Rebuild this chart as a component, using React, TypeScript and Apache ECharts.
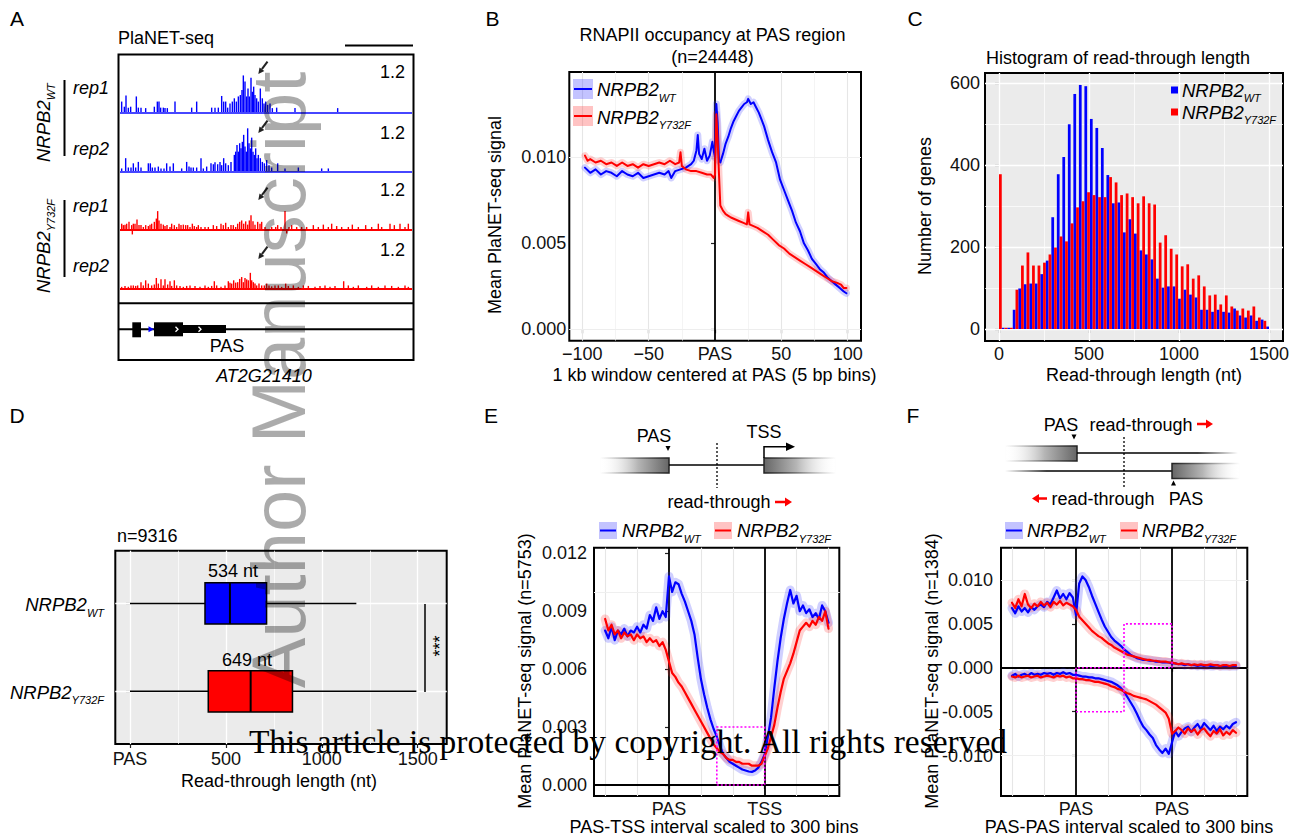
import React, { useEffect, useRef } from "react";
import * as echarts from "echarts";

const FONT = "'Liberation Sans', Arial, Helvetica, sans-serif";
const SERIF = "'Liberation Serif', 'Times New Roman', serif";
const BLUE = "#0000FF";
const RED = "#FF0000";
const BLUE_BAND = "rgba(40,40,255,0.22)";
const RED_BAND = "rgba(255,40,40,0.22)";
const GRID_MAJ = "#E6E6E6";
const GRID_MIN = "#EFEFEF";

// ---------------- Panel A: genome browser tracks [position, signal] ----------------
const trackWTrep1 = [
  [20, 0.23], [28, 0.12], [33, 0.36], [40, 0.1], [47, 0.12], [64, 0.34], [70, 0.1], [78, 0.1], [92, 0.09],
  [118, 0.12], [127, 0.23], [132, 0.23], [137, 0.1], [145, 0.1], [150, 0.09], [157, 0.09], [180, 0.23],
  [230, 0.1], [245, 0.23], [290, 0.1], [300, 0.1], [310, 0.1], [320, 0.35], [326, 0.23], [332, 0.23],
  [338, 0.1], [345, 0.19], [352, 0.23], [358, 0.3], [364, 0.23], [370, 0.34], [376, 0.37], [381, 0.48],
  [385, 0.79], [390, 0.66], [395, 0.34], [399, 0.51], [403, 0.34], [408, 0.74], [412, 0.44], [416, 0.55],
  [420, 0.37], [425, 0.3], [430, 0.23], [436, 0.51], [442, 0.3], [447, 0.19], [452, 0.23], [458, 0.16],
  [465, 0.19], [472, 0.09], [485, 0.1], [540, 0.09], [668, 0.09],
];
const trackWTrep2 = [
  [20, 0.07], [32, 0.29], [40, 0.09], [48, 0.09], [55, 0.18], [62, 0.09], [70, 0.21], [78, 0.09], [100, 0.18],
  [106, 0.18], [112, 0.09], [120, 0.09], [130, 0.11], [138, 0.07], [147, 0.07], [155, 0.18], [165, 0.11],
  [175, 0.18], [200, 0.07], [215, 0.21], [222, 0.11], [228, 0.09], [235, 0.09], [245, 0.09], [258, 0.29],
  [265, 0.07], [275, 0.11], [288, 0.18], [295, 0.16], [300, 0.2], [308, 0.16], [315, 0.21], [320, 0.14],
  [326, 0.29], [332, 0.18], [340, 0.14], [348, 0.21], [358, 0.36], [362, 0.43], [366, 0.57], [370, 0.43],
  [374, 0.61], [378, 0.5], [382, 0.64], [386, 0.79], [390, 0.54], [394, 0.43], [398, 0.93], [402, 0.61],
  [406, 0.5], [410, 0.73], [414, 0.43], [418, 0.36], [422, 0.5], [426, 0.29], [430, 0.36], [436, 0.29],
  [442, 0.21], [448, 0.18], [455, 0.25], [462, 0.14], [470, 0.09], [488, 0.18], [510, 0.07], [550, 0.09],
  [620, 0.07], [640, 0.07],
];
const trackY732Frep1 = [
  [20, 0.12], [25, 0.09], [30, 0.1], [35, 0.12], [42, 0.16], [50, 0.09], [52, -0.11], [55, 0.12], [60, 0.12],
  [66, 0.21], [72, 0.09], [78, 0.09], [85, 0.05], [92, 0.09], [100, 0.07], [105, 0.1], [110, 0.12], [118, 0.16],
  [124, 0.23], [128, 0.39], [132, 0.19], [138, 0.12], [145, 0.1], [150, 0.07], [156, 0.09], [165, 0.05],
  [170, 0.12], [178, 0.09], [185, 0.05], [192, 0.12], [198, 0.09], [205, 0.1], [212, 0.09], [218, 0.09],
  [225, 0.05], [232, 0.12], [238, 0.07], [245, 0.05], [250, 0.09], [258, 0.05], [270, 0.05], [280, 0.05],
  [295, 0.09], [305, 0.07], [318, 0.12], [325, 0.09], [332, 0.14], [340, 0.05], [348, 0.09], [355, 0.09],
  [362, 0.05], [368, 0.12], [374, 0.16], [380, 0.19], [386, 0.12], [392, 0.17], [398, 0.1], [403, 0.19],
  [408, 0.3], [414, 0.17], [420, 0.1], [428, 0.16], [435, 0.12], [440, 0.16], [450, 0.05], [470, 0.05],
  [482, 0.05], [488, 0.09], [498, 0.05], [510, 0.39], [515, -0.09], [522, 0.05], [530, 0.09], [545, 0.05],
  [560, 0.05], [575, 0.05], [595, 0.09], [610, 0.05], [625, 0.1], [640, 0.05], [650, 0.12], [665, 0.07],
  [680, 0.05], [700, 0.05], [712, 0.1], [730, 0.05], [752, 0.09], [770, 0.05], [790, 0.12], [800, 0.05],
  [825, 0.12], [838, 0.09], [855, 0.12], [870, 0.05], [880, 0.12],
];
const trackY732Frep2 = [
  [20, 0.04], [30, 0.06], [40, 0.04], [48, 0.07], [55, 0.07], [62, 0.06], [68, 0.07], [78, 0.14], [85, 0.07],
  [92, 0.18], [100, 0.11], [110, 0.07], [118, 0.09], [124, 0.23], [130, 0.11], [138, 0.2], [145, 0.07],
  [150, 0.2], [158, 0.09], [165, 0.16], [170, 0.06], [178, 0.18], [185, 0.07], [195, 0.06], [205, 0.04],
  [215, 0.06], [225, 0.07], [240, 0.06], [255, 0.04], [270, 0.07], [280, 0.04], [290, 0.06], [298, 0.16],
  [305, 0.07], [318, 0.04], [330, 0.07], [340, 0.16], [345, 0.13], [350, 0.11], [356, 0.18], [362, 0.13],
  [368, 0.14], [374, 0.21], [380, 0.25], [385, 0.14], [390, 0.23], [395, 0.2], [400, 0.18], [406, 0.34],
  [410, 0.18], [415, 0.14], [420, 0.11], [425, 0.07], [432, 0.11], [440, 0.07], [448, 0.07], [455, 0.11],
  [462, 0.07], [470, 0.05], [480, 0.07], [490, 0.07], [500, 0.04], [512, 0.11], [520, 0.06], [535, 0.07],
  [550, 0.04], [565, 0.07], [580, 0.06], [600, 0.04], [615, 0.06], [630, 0.07], [645, 0.04], [660, 0.06],
  [686, 0.16], [700, 0.07], [715, 0.04], [730, 0.07], [755, 0.04], [770, 0.07], [790, 0.04], [810, 0.07],
  [830, 0.06], [850, 0.04], [870, 0.07], [880, 0.04],
];

// ---------------- Panel B: metagene around PAS [bin, signal] ----------------
const profileB_WT = [
  [-98, 0.0094], [-94, 0.0091], [-90, 0.0093], [-86, 0.009], [-82, 0.0092], [-78, 0.0091], [-74, 0.0089],
  [-70, 0.0092], [-66, 0.009], [-62, 0.0089], [-58, 0.0091], [-54, 0.0088], [-50, 0.0089], [-46, 0.009],
  [-42, 0.0091], [-38, 0.009], [-35, 0.0092], [-33, 0.0088], [-30, 0.0092], [-26, 0.0093], [-22, 0.0094],
  [-18, 0.0096], [-16, 0.0098], [-14, 0.0104], [-13, 0.0113], [-12, 0.0102], [-10, 0.0099], [-8, 0.0105],
  [-6, 0.0098], [-4, 0.0101], [-2, 0.0109], [-1, 0.0104], [0, 0.01], [1, 0.0131], [2, 0.012], [3, 0.0098],
  [4, 0.0097], [6, 0.0102], [8, 0.0108], [10, 0.0112], [12, 0.0117], [14, 0.0121], [16, 0.0124], [18, 0.0127],
  [20, 0.0129], [22, 0.0131], [24, 0.0132], [25, 0.0134], [27, 0.0131], [29, 0.0132], [31, 0.0129],
  [33, 0.0126], [35, 0.0122], [37, 0.0118], [40, 0.011], [43, 0.0103], [46, 0.0097], [49, 0.0087],
  [52, 0.0081], [55, 0.0075], [58, 0.0069], [61, 0.0062], [64, 0.0057], [67, 0.005], [70, 0.0046],
  [73, 0.0041], [76, 0.0038], [79, 0.0035], [82, 0.0033], [85, 0.003], [88, 0.0028], [91, 0.0026],
  [94, 0.0024], [97, 0.0022], [99, 0.0021],
];
const profileB_Y732F = [
  [-98, 0.0101], [-96, 0.0098], [-94, 0.0099], [-90, 0.0097], [-86, 0.0098], [-82, 0.0096], [-78, 0.0097],
  [-74, 0.0095], [-70, 0.0097], [-66, 0.0095], [-62, 0.0096], [-58, 0.0094], [-54, 0.0096], [-50, 0.0095],
  [-46, 0.0096], [-42, 0.0097], [-38, 0.0096], [-34, 0.0098], [-30, 0.0096], [-27, 0.0097], [-26, 0.0103],
  [-25, 0.0095], [-22, 0.0093], [-18, 0.0092], [-14, 0.0092], [-10, 0.0091], [-6, 0.009], [-3, 0.009],
  [-1, 0.0088], [0, 0.009], [1, 0.0125], [2, 0.011], [3, 0.009], [4, 0.0072], [6, 0.0069], [8, 0.0067],
  [10, 0.0066], [12, 0.0065], [15, 0.0064], [18, 0.0063], [21, 0.0062], [24, 0.0061], [25, 0.0068],
  [26, 0.0061], [29, 0.006], [32, 0.0059], [36, 0.0057], [40, 0.0055], [44, 0.0052], [48, 0.0049],
  [52, 0.0047], [56, 0.0044], [60, 0.0042], [64, 0.004], [68, 0.0038], [72, 0.0036], [76, 0.0034],
  [80, 0.0032], [84, 0.003], [88, 0.0028], [92, 0.0027], [95, 0.0026], [97, 0.0024], [99, 0.0024],
];

// ---------------- Panel C: histogram (50 bins, centres in nt) ----------------
const histBins = [
  "0", "31", "61", "92", "122", "153", "184", "214", "245", "276", "306", "337", "367", "398", "429", "459",
  "490", "520", "551", "582", "612", "643", "673", "704", "735", "765", "796", "827", "857", "888", "918",
  "949", "980", "1010", "1041", "1071", "1102", "1133", "1163", "1194", "1224", "1255", "1286", "1316",
  "1347", "1378", "1408", "1439", "1469", "1500",
];
const histWT = [
  0, 3, 3, 47, 99, 109, 111, 111, 134, 167, 273, 378, 420, 500, 574, 596, 593, 513, 491, 442, 376, 307, 309,
  236, 268, 233, 192, 182, 170, 123, 101, 104, 104, 74, 96, 84, 77, 47, 47, 42, 47, 42, 40, 50, 33, 28, 33,
  20, 23, 6,
];
const histY732F = [
  378, 3, 3, 96, 155, 187, 155, 155, 162, 182, 199, 226, 214, 258, 297, 312, 334, 327, 322, 322, 371, 358,
  327, 331, 322, 307, 324, 307, 304, 211, 229, 196, 182, 153, 158, 123, 131, 104, 82, 84, 60, 82, 55, 45, 50,
  45, 55, 28, 20, 0,
];

// ---------------- Panel D: boxplot [row, min, q1, median, q3, max] ----------------
const boxStats = [
  [1, 0, 391, 521, 712, 1180],
  [2, 0, 408, 629, 847, 1493],
];
const boxColors = [BLUE, RED];
const boxMedianLabels = ["534 nt", "649 nt"];

// ---------------- Panels E / F: scaled bins ----------------
const scaledBins = Array.from({ length: 71 }, (_, i) => -200 + 10 * i);
const E_WT = [
  0.008, 0.0076, 0.0082, 0.0075, 0.008, 0.0078, 0.0081, 0.0077, 0.008, 0.0079,
  0.0082, 0.0079, 0.0083, 0.0081, 0.0088, 0.0085, 0.0092, 0.0086, 0.009, 0.0087,
  0.0108, 0.01, 0.0105, 0.0104, 0.0099, 0.0095, 0.009, 0.0085, 0.0078, 0.0066,
  0.0055, 0.0047, 0.004, 0.0034, 0.0029, 0.0025, 0.002, 0.0016, 0.0014, 0.0012,
  0.0011, 0.001, 0.0009, 0.0008, 0.00075, 0.0007, 0.00068, 0.00075, 0.0009, 0.0012,
  0.0016, 0.0025, 0.0035, 0.005, 0.0064, 0.0076, 0.0086, 0.0094, 0.0101, 0.0094,
  0.0098, 0.009, 0.0093, 0.0089, 0.0091, 0.0087, 0.0089, 0.0086, 0.0093, 0.009,
  0.0084,
];
const E_Y732F = [
  0.0086, 0.008, 0.0083, 0.0078, 0.008, 0.0076, 0.0079, 0.0077, 0.0078, 0.0075,
  0.0078, 0.0076, 0.0077, 0.0074, 0.0076, 0.0074, 0.0075, 0.0072, 0.0074, 0.007,
  0.0064, 0.0058, 0.0056, 0.0053, 0.0051, 0.0048, 0.0045, 0.0042, 0.0039, 0.0036,
  0.0033, 0.003, 0.0027, 0.0024, 0.0021, 0.0019, 0.0017, 0.0016, 0.0014, 0.0013,
  0.0013, 0.0012, 0.0012, 0.0011, 0.0011, 0.0011, 0.001, 0.001, 0.001, 0.0011,
  0.0015, 0.0019, 0.0025, 0.0031, 0.004, 0.0048, 0.0055, 0.0059, 0.0063, 0.0068,
  0.0074, 0.008, 0.0082, 0.0084, 0.0082, 0.0085, 0.0083, 0.0087, 0.0085, 0.009,
  0.0081,
];
const F_WT_sense = [
  0.0068, 0.0062, 0.007, 0.0064, 0.0068, 0.0063, 0.0069, 0.0066, 0.007, 0.0072,
  0.0069, 0.0075, 0.0072, 0.008, 0.0088, 0.0079, 0.0084, 0.0078, 0.0085, 0.008,
  0.006, 0.0096, 0.0104, 0.01, 0.0092, 0.0082, 0.0073, 0.0064, 0.0055, 0.0047,
  0.0041, 0.0035, 0.0031, 0.0028, 0.0025, 0.0021, 0.0018, 0.0015, 0.0013, 0.0011,
  0.001, 0.0009, 0.0009, 0.0008, 0.0008, 0.0007, 0.0007, 0.0006, 0.0006, 0.0006,
  0.0005, 0.0005, 0.0004, 0.0004, 0.0003, 0.0004, 0.0003, 0.0003, 0.0002, 0.0003,
  0.0002, 0.0003, 0.0002, 0.0002, 0.0003, 0.0002, 0.0002, 0.0002, 0.0002, 0.0002,
  0.0002,
];
const F_Y732F_sense = [
  0.0074, 0.0068, 0.0078, 0.007, 0.0084, 0.0072, 0.0068, 0.0073, 0.007, 0.0075,
  0.0071, 0.0074, 0.0069, 0.0075, 0.0072, 0.0076, 0.0071, 0.0074, 0.0072, 0.007,
  0.0066, 0.0058, 0.0054, 0.005, 0.0046, 0.0042, 0.0039, 0.0036, 0.0034, 0.0031,
  0.0028, 0.0026, 0.0023, 0.0021, 0.0019, 0.0017, 0.0015, 0.0014, 0.0013, 0.0012,
  0.0011, 0.001, 0.0009, 0.0009, 0.0008, 0.0008, 0.0007, 0.0007, 0.0007, 0.0006,
  0.0006, 0.0005, 0.0004, 0.0005, 0.0004, 0.0004, 0.0003, 0.0004, 0.0003, 0.0004,
  0.0003, 0.0003, 0.0004, 0.0003, 0.0003, 0.0002, 0.0003, 0.0003, 0.0002, 0.0003,
  0.0003,
];
const F_WT_anti = [
  -0.0009, -0.0007, -0.001, -0.0008, -0.0007, -0.0009, -0.0006, -0.0008, -0.0007, -0.0008,
  -0.0006, -0.0007, -0.0006, -0.0008, -0.0006, -0.0007, -0.0005, -0.0007, -0.0006, -0.0008,
  -0.0008, -0.0009, -0.001, -0.001, -0.0011, -0.0011, -0.0012, -0.0012, -0.0013, -0.0014,
  -0.0015, -0.0016, -0.0018, -0.002, -0.0023, -0.0027, -0.0033, -0.0039, -0.0045, -0.0052,
  -0.006, -0.0067, -0.0071, -0.0076, -0.008, -0.0088, -0.0093, -0.0097, -0.0092, -0.0098,
  -0.0085, -0.0072, -0.0078, -0.0073, -0.0069, -0.0067, -0.0073, -0.0068, -0.0064, -0.007,
  -0.0063, -0.0067, -0.0071, -0.0066, -0.0072, -0.0067, -0.007, -0.0066, -0.0069, -0.0064,
  -0.0062,
];
const F_Y732F_anti = [
  -0.001, -0.0011, -0.0009, -0.0011, -0.001, -0.0009, -0.0011, -0.001, -0.0009, -0.0011,
  -0.001, -0.0009, -0.001, -0.0011, -0.0009, -0.001, -0.0009, -0.0011, -0.001, -0.0012,
  -0.0012, -0.0013, -0.0013, -0.0014, -0.0014, -0.0015, -0.0016, -0.0016, -0.0017, -0.0018,
  -0.0019, -0.0021, -0.0022, -0.0024, -0.0025, -0.0027, -0.0029, -0.003, -0.0032, -0.0033,
  -0.0034, -0.0035, -0.0036, -0.0038, -0.004, -0.0042, -0.0045, -0.0048, -0.0051, -0.0058,
  -0.0075, -0.0072, -0.0068, -0.0071, -0.0075, -0.0069, -0.0073, -0.007, -0.0076, -0.0071,
  -0.0069, -0.0074, -0.0078, -0.0072, -0.0075, -0.007, -0.0077, -0.0073, -0.0076, -0.0071,
  -0.0074,
];

// ---------------- helpers ----------------
const pairs = (ys: number[]) => ys.map((v, i) => [scaledBins[i], v]);

function T(text: string, x: number, y: number, o: any = {}) {
  return {
    type: "text", x, y, rotation: o.rot || 0, z: o.z || 100, silent: true,
    style: {
      text, fontSize: o.size || 18, fontFamily: o.family || FONT,
      fontStyle: o.italic ? "italic" : "normal", fill: o.color || "#000",
      align: o.align || "center", verticalAlign: o.va || "middle",
    },
  };
}
function NR(x: number, y: number, sub: string, o: any = {}) {
  const size = o.size || 18.5;
  const subSize = 11;
  const mainW = 3.334 * size;
  const subW = (sub === "WT" ? 1.555 : 2.946) * subSize;
  const sx = o.right ? -(mainW + subW) : 0;
  return {
    type: "group", x, y, rotation: o.rot || 0, z: 100, silent: true,
    children: [
      { type: "text", x: sx, y: 0, z: 100, style: { text: "NRPB2", fontSize: size, fontStyle: "italic", fontFamily: FONT, fill: "#000", align: "left", verticalAlign: "middle" } },
      { type: "text", x: sx + mainW, y: o.dy || 8, z: 100, style: { text: sub, fontSize: subSize, fontStyle: "italic", fontFamily: FONT, fill: "#000", align: "left", verticalAlign: "middle" } },
    ],
  };
}
const L = (x1: number, y1: number, x2: number, y2: number, stroke: any = "#000", w = 1.5, extra: any = {}) =>
  ({ type: "line", z: 100, silent: true, shape: { x1, y1, x2, y2 }, style: { stroke, lineWidth: w, ...extra } });
const R = (x: number, y: number, w: number, h: number, style: any) =>
  ({ type: "rect", z: 100, silent: true, shape: { x, y, width: w, height: h }, style });
const P = (points: number[][], fill: string) =>
  ({ type: "polygon", z: 100, silent: true, shape: { points }, style: { fill } });
const PL = (points: number[][], stroke: string, w: number) =>
  ({ type: "polyline", z: 100, silent: true, shape: { points }, style: { stroke, lineWidth: w, fill: "none" } });
const grad = (stops: any[]) => ({ type: "linear", x: 0, y: 0, x2: 1, y2: 0, colorStops: stops.map(([offset, color]) => ({ offset, color })) });
const gradGlobal = (x1: number, x2: number, stops: any[]) =>
  ({ type: "linear", global: true, x: x1, y: 0, x2, y2: 0, colorStops: stops.map(([offset, color]) => ({ offset, color })) });

function gl(kind: string, values: number[], color: string, width: number) {
  return values.map((v) => ({ [kind === "x" ? "xAxis" : "yAxis"]: v, lineStyle: { color, width, type: "solid" } }));
}
function gridS(axis: number, anchor: number[], items: any[]) {
  return {
    type: "line", xAxisIndex: axis, yAxisIndex: axis, data: [anchor], symbol: "none", showSymbol: false,
    lineStyle: { width: 0, opacity: 0 }, z: 1, silent: true,
    markLine: { z: 1, silent: true, symbol: ["none", "none"], animation: false, label: { show: false }, data: items },
  };
}
function lineS(axis: number, data: any[], color: string, width: number, z: number) {
  return {
    type: "line", xAxisIndex: axis, yAxisIndex: axis, data, showSymbol: false, symbol: "none", silent: true, z,
    lineStyle: { color, width, cap: "round", join: "round" },
  };
}
function vAxis(gridIndex: number, min: number, max: number, ticks: number[], fmt: any, margin: number) {
  return {
    gridIndex, type: "value", min, max,
    axisLine: { show: false }, splitLine: { show: false },
    axisTick: { show: true, customValues: ticks, length: 4, lineStyle: { color: "#222", width: 1.2 } },
    axisLabel: { show: true, customValues: ticks, formatter: fmt, margin, fontSize: 18, fontFamily: FONT, color: "#111", hideOverlap: false },
  };
}
const fix3 = (v: number) => v.toFixed(3);

function arrowA(tx: number, ty: number) {
  return [
    L(tx + 9.2, ty - 12.3, tx + 3.6, ty - 4.8, "#222", 2),
    P([[tx, ty], [tx + 6, ty - 3], [tx + 1.2, ty - 6.6]], "#222"),
  ];
}

function buildOption() {
  const grids: any[] = [
    { left: 120, top: 56.3, width: 292, height: 61.6 },
    { left: 120, top: 115.7, width: 292, height: 61.6 },
    { left: 120, top: 173.3, width: 292, height: 61.6 },
    { left: 120, top: 232.7, width: 292, height: 61.6 },
    { left: 569.3, top: 72, width: 291.7, height: 268.7, show: true, backgroundColor: "#fff", borderColor: "#000", borderWidth: 2 },
    { left: 985, top: 73, width: 298, height: 268, show: true, backgroundColor: "#EBEBEB", borderColor: "#000", borderWidth: 2 },
    { left: 996.24, top: 73, width: 275.5, height: 268 },
    { left: 115.3, top: 550.7, width: 331.4, height: 193.3, show: true, backgroundColor: "#EBEBEB", borderColor: "#000", borderWidth: 2 },
    { left: 594, top: 547.7, width: 245.3, height: 248.3, show: true, backgroundColor: "#fff", borderColor: "#000", borderWidth: 2 },
    { left: 1001, top: 547.7, width: 246.3, height: 248.3, show: true, backgroundColor: "#fff", borderColor: "#000", borderWidth: 2 },
  ].map((g) => ({ containLabel: false, outerBoundsMode: "none", ...g }));

  const xAxis: any[] = [];
  const yAxis: any[] = [];
  for (let i = 0; i < 4; i++) {
    xAxis.push({ gridIndex: i, type: "value", min: 15, max: 891, show: false });
    yAxis.push({ gridIndex: i, type: "value", min: -0.12, max: 1.2, show: false });
  }
  xAxis.push(vAxis(4, -109.8, 110, [-100, -50, 0, 50, 100], (v: number) => (v === 0 ? "PAS" : v < 0 ? "\u2212" + Math.abs(v) : String(v)), 4));
  yAxis.push(vAxis(4, -0.00066, 0.01496, [0, 0.005, 0.01], fix3, 3));
  xAxis.push(vAxis(5, -77.8, 1577.8, [0, 500, 1000, 1500], (v: number) => String(v), 4));
  yAxis.push(vAxis(5, -29.3, 625.2, [0, 200, 400, 600], (v: number) => String(v), 5));
  xAxis.push({ gridIndex: 6, type: "category", data: histBins, show: false });
  yAxis.push({ gridIndex: 6, type: "value", min: -29.3, max: 625.2, show: false });
  xAxis.push(vAxis(7, -76.6, 1651, [0, 500, 1000, 1500], (v: number) => (v === 0 ? "PAS" : String(v)), 6));
  yAxis.push({
    gridIndex: 7, type: "value", min: 0.4, max: 2.6, inverse: true, axisLine: { show: false }, splitLine: { show: false },
    axisLabel: { show: false }, axisTick: { show: true, customValues: [1, 2], length: 4, lineStyle: { color: "#222", width: 1.2 } },
  });
  xAxis.push(vAxis(8, -235, 533.9, [0, 300], (v: number) => (v === 0 ? "PAS" : "TSS"), 4));
  yAxis.push(vAxis(8, -0.00057, 0.01229, [0, 0.003, 0.006, 0.009, 0.012], fix3, 7));
  xAxis.push(vAxis(9, -234.4, 535.3, [0, 300], () => "PAS", 4));
  yAxis.push(vAxis(9, -0.0146, 0.01367, [-0.01, -0.005, 0, 0.005, 0.01], fix3, 8));

  const series: any[] = [];
  // A
  const trackData = [trackWTrep1, trackWTrep2, trackY732Frep1, trackY732Frep2];
  trackData.forEach((d, i) => {
    const c = i < 2 ? BLUE : RED;
    series.push({
      type: "bar", xAxisIndex: i, yAxisIndex: i, data: d, barWidth: 1.4, itemStyle: { color: c }, silent: true, z: 2,
      markLine: { z: 3, silent: true, symbol: ["none", "none"], label: { show: false }, lineStyle: { color: i < 2 ? "#4646FF" : RED, width: 2.2, type: "solid" }, data: [{ yAxis: 0 }] },
    });
  });
  // B
  series.push(gridS(4, [-100, 0], [
    ...gl("x", [-100, -50, 50, 100], GRID_MAJ, 1.1), ...gl("x", [-75, -25, 25, 75], GRID_MIN, 0.7),
    ...gl("y", [0, 0.005, 0.01], GRID_MAJ, 1.1), ...gl("y", [0.0025, 0.0075, 0.0125], GRID_MIN, 0.7),
    ...gl("x", [0], "#000", 1.8),
  ]));
  series.push(lineS(4, profileB_WT, BLUE_BAND, 7, 2), lineS(4, profileB_Y732F, RED_BAND, 7, 2));
  series.push(lineS(4, profileB_WT, BLUE, 2, 3), lineS(4, profileB_Y732F, RED, 2, 3));
  // C
  series.push(gridS(5, [0, 0], [
    ...gl("x", [0, 500, 1000, 1500], "#fff", 1.3), ...gl("x", [250, 750, 1250], "#fff", 0.7),
    ...gl("y", [0, 200, 400, 600], "#fff", 1.3), ...gl("y", [100, 300, 500], "#fff", 0.7),
  ]));
  series.push({ type: "bar", xAxisIndex: 6, yAxisIndex: 6, data: histWT, itemStyle: { color: BLUE }, barGap: "0%", barCategoryGap: "0%", silent: true, z: 2 });
  series.push({ type: "bar", xAxisIndex: 6, yAxisIndex: 6, data: histY732F, itemStyle: { color: RED }, barGap: "0%", barCategoryGap: "0%", silent: true, z: 2 });
  // D
  series.push(gridS(7, [0, 1], [
    ...gl("x", [0, 500, 1000, 1500], "#fff", 1.3), ...gl("x", [250, 750, 1250], "#fff", 0.7),
    ...gl("y", [1, 2], "#fff", 1.3),
  ]));
  series.push({
    type: "custom", xAxisIndex: 7, yAxisIndex: 7, data: boxStats, encode: { x: [1, 2, 3, 4, 5], y: 0 }, silent: true, z: 3,
    renderItem: (params: any, api: any) => {
      const row = api.value(0);
      const pMin = api.coord([api.value(1), row]);
      const pQ1 = api.coord([api.value(2), row]);
      const pMed = api.coord([api.value(3), row]);
      const pQ3 = api.coord([api.value(4), row]);
      const pMax = api.coord([api.value(5), row]);
      const yA = api.coord([api.value(2), row - 0.235])[1];
      const yB = api.coord([api.value(2), row + 0.235])[1];
      const top = Math.min(yA, yB);
      const h = Math.abs(yB - yA);
      return {
        type: "group",
        children: [
          { type: "line", shape: { x1: pMin[0], y1: pMin[1], x2: pQ1[0], y2: pQ1[1] }, style: { stroke: "#000", lineWidth: 1.5 } },
          { type: "line", shape: { x1: pQ3[0], y1: pQ3[1], x2: pMax[0], y2: pMax[1] }, style: { stroke: "#000", lineWidth: 1.5 } },
          { type: "rect", shape: { x: pQ1[0], y: top, width: pQ3[0] - pQ1[0], height: h }, style: { fill: boxColors[params.dataIndex], stroke: "#000", lineWidth: 1.5 } },
          { type: "line", shape: { x1: pMed[0], y1: top, x2: pMed[0], y2: top + h }, style: { stroke: "#000", lineWidth: 2 } },
        ],
      };
    },
  });
  // E
  const scaledGridV = [-200, -100, 100, 200, 400, 500];
  series.push(gridS(8, [-200, 0], [
    ...gl("x", scaledGridV, GRID_MAJ, 1.1),
    ...gl("y", [0.003, 0.006, 0.009, 0.012], GRID_MAJ, 1.1), ...gl("y", [0.0015, 0.0045, 0.0075, 0.0105], GRID_MIN, 0.7),
    ...gl("x", [0, 300], "#000", 1.8), ...gl("y", [0], "#000", 1.8),
  ]));
  series.push(lineS(8, pairs(E_WT), BLUE_BAND, 9, 2), lineS(8, pairs(E_Y732F), RED_BAND, 9, 2));
  series.push(lineS(8, pairs(E_WT), BLUE, 2.2, 3), lineS(8, pairs(E_Y732F), RED, 2.2, 3));
  series.push({
    type: "line", xAxisIndex: 8, yAxisIndex: 8, data: [[-200, 0]], symbol: "none", lineStyle: { opacity: 0 }, z: 4, silent: true,
    markArea: { z: 4, silent: true, itemStyle: { color: "rgba(0,0,0,0)", borderColor: "#FF00FF", borderWidth: 1.6, borderType: [2, 2] }, data: [[{ coord: [150, 0] }, { coord: [300, 0.003] }]] },
  });
  // F
  series.push(gridS(9, [-200, 0], [
    ...gl("x", scaledGridV, GRID_MAJ, 1.1),
    ...gl("y", [-0.01, -0.005, 0.005, 0.01], GRID_MAJ, 1.1), ...gl("y", [-0.0125, -0.0075, -0.0025, 0.0025, 0.0075, 0.0125], GRID_MIN, 0.7),
    ...gl("x", [0, 300], "#000", 1.8), ...gl("y", [0], "#000", 1.8),
  ]));
  series.push(
    lineS(9, pairs(F_WT_sense), BLUE_BAND, 9, 2), lineS(9, pairs(F_WT_anti), BLUE_BAND, 9, 2),
    lineS(9, pairs(F_Y732F_sense), RED_BAND, 9, 2), lineS(9, pairs(F_Y732F_anti), RED_BAND, 9, 2),
    lineS(9, pairs(F_WT_sense), BLUE, 2.2, 3), lineS(9, pairs(F_WT_anti), BLUE, 2.2, 3),
    lineS(9, pairs(F_Y732F_sense), RED, 2.2, 3), lineS(9, pairs(F_Y732F_anti), RED, 2.2, 3),
  );
  series.push({
    type: "line", xAxisIndex: 9, yAxisIndex: 9, data: [[-200, 0]], symbol: "none", lineStyle: { opacity: 0 }, z: 4, silent: true,
    markArea: {
      z: 4, silent: true, itemStyle: { color: "rgba(0,0,0,0)", borderColor: "#FF00FF", borderWidth: 1.6, borderType: [2, 2] },
      data: [[{ coord: [150, 0] }, { coord: [300, 0.005] }], [{ coord: [0, -0.005] }, { coord: [150, 0] }]],
    },
  });

  // ---------------- graphic ----------------
  const G: any[] = [];
  [["A", 17, 18], ["B", 492.5, 18], ["C", 915, 18], ["D", 17, 415], ["E", 491, 415], ["F", 913, 415]].forEach(
    ([t, x, y]: any) => G.push(T(t, x, y, { size: 21 })));

  // A
  G.push(T("PlaNET-seq", 118, 38, { align: "left" }));
  G.push(L(345, 45.5, 413, 45.5, "#000", 2));
  G.push(R(118.5, 54.5, 295, 305.5, { fill: "none", stroke: "#000", lineWidth: 2 }));
  G.push(L(118, 303.3, 414, 303.3, "#000", 2));
  [72, 133, 190, 250].forEach((y) => G.push(T("1.2", 405, y, { align: "right" })));
  [["rep1", 88], ["rep2", 149], ["rep1", 206], ["rep2", 266]].forEach(([t, y]: any) => G.push(T(t, 73, y, { align: "left", italic: true })));
  G.push(L(64.5, 80, 64.5, 156, "#000", 2), L(64.5, 200, 64.5, 277, "#000", 2));
  G.push(NR(43, 162, "WT", { rot: Math.PI / 2 }), NR(43, 293, "Y732F", { rot: Math.PI / 2 }));
  [74, 133, 200, 259].forEach((ty) => G.push(...arrowA(258.3, ty)));
  G.push(L(119, 329.3, 413, 329.3, "#000", 2));
  G.push(R(132.3, 322.3, 8.7, 15, { fill: "#000" }));
  G.push(P([[148.5, 326.3], [154, 329.3], [148.5, 332.3]], BLUE));
  G.push(R(154, 322.3, 29, 14, { fill: "#000" }));
  G.push(R(182.7, 325, 43.3, 8, { fill: "#000" }));
  G.push(PL([[175.5, 326.8], [178, 329.3], [175.5, 331.8]], "#fff", 1.3));
  G.push(PL([[198.5, 326.8], [201, 329.3], [198.5, 331.8]], "#fff", 1.3));
  G.push(T("PAS", 227, 346));
  G.push(T("AT2G21410", 264, 375.5, { italic: true }));

  // B
  G.push(T("RNAPII occupancy at PAS region", 712.5, 35));
  G.push(T("(n=24448)", 712.5, 57));
  G.push(T("Mean PlaNET-seq signal", 495, 215, { rot: Math.PI / 2 }));
  G.push(T("1 kb window centered at PAS (5 bp bins)", 714.5, 375));
  G.push(R(573, 79, 20, 20, { fill: "rgba(40,40,255,0.28)" }), L(574, 89, 592, 89, BLUE, 2));
  G.push(R(573, 106, 20, 20, { fill: "rgba(255,40,40,0.28)" }), L(574, 116, 592, 116, RED, 2));
  G.push(NR(597, 89.5, "WT"), NR(597, 117, "Y732F"));

  // C
  G.push(T("Histogram of read-through length", 1118, 58));
  G.push(T("Number of genes", 925, 206, { rot: Math.PI / 2 }));
  G.push(T("Read-through length (nt)", 1144, 375));
  G.push(R(1171, 86.5, 7, 7, { fill: BLUE }), R(1171, 108.5, 7, 7, { fill: RED }));
  G.push(NR(1182, 90, "WT"), NR(1182, 112, "Y732F"));

  // D
  G.push(T("n=9316", 117, 536, { align: "left" }));
  G.push(NR(104, 604.5, "WT", { right: true }), NR(104, 692, "Y732F", { right: true }));
  G.push(T(boxMedianLabels[0], 233, 571), T(boxMedianLabels[1], 247, 660));
  G.push(L(425, 604, 425, 692, "#000", 1.5));
  G.push(T("***", 439.5, 646, { rot: Math.PI / 2 }));
  G.push(T("Read-through length (nt)", 279, 781));

  // E diagram
  G.push(R(600, 458, 69, 15, { fill: grad([[0, "rgba(255,255,255,0)"], [0.55, "#b5b5b5"], [1, "#666"]]), stroke: grad([[0, "rgba(40,40,40,0)"], [1, "#222"]]), lineWidth: 1.5 }));
  G.push(L(669, 465, 764, 465, "#000", 1.5));
  G.push(R(764, 458, 72, 15, { fill: grad([[0, "#666"], [0.45, "#b5b5b5"], [1, "rgba(255,255,255,0)"]]), stroke: grad([[0, "#222"], [1, "rgba(40,40,40,0)"]]), lineWidth: 1.5 }));
  G.push(PL([[764, 458], [764, 446.7], [787, 446.7]], "#000", 1.5));
  G.push(P([[786, 442.5], [795, 446.7], [786, 451]], "#000"));
  G.push(P([[665.5, 446], [670.5, 446], [668, 451]], "#000"));
  G.push(L(717, 443, 717, 488, "#000", 1.3, { lineDash: [2, 2] }));
  G.push(T("PAS", 654, 435.5), T("TSS", 764, 431.5), T("read-through", 719, 502));
  G.push(L(775, 502, 786, 502, RED, 2.5), P([[785, 497.5], [792, 502], [785, 506.5]], RED));
  // E legend + labels
  G.push(R(599, 522, 18, 17, { fill: "rgba(40,40,255,0.28)" }), L(600, 530.5, 616, 530.5, BLUE, 2));
  G.push(R(714, 522, 18, 17, { fill: "rgba(255,40,40,0.28)" }), L(715, 530.5, 731, 530.5, RED, 2));
  G.push(NR(622, 530, "WT", { dy: 9 }), NR(737, 530, "Y732F", { dy: 9 }));
  G.push(T("Mean PlaNET-seq signal (n=5753)", 525, 671, { rot: Math.PI / 2 }));
  G.push(T("PAS-TSS interval scaled to 300 bins", 714, 827));

  // F diagram
  G.push(R(1005, 446, 72, 15, { fill: grad([[0, "rgba(255,255,255,0)"], [0.55, "#b5b5b5"], [1, "#666"]]), stroke: grad([[0, "rgba(40,40,40,0)"], [1, "#222"]]), lineWidth: 1.5 }));
  G.push(L(1077, 453, 1238, 453, gradGlobal(1077, 1238, [[0, "#000"], [0.75, "#000"], [1, "rgba(0,0,0,0)"]]), 1.5));
  G.push(L(1005, 471, 1172, 471, gradGlobal(1005, 1172, [[0, "rgba(0,0,0,0)"], [0.25, "#000"], [1, "#000"]]), 1.5));
  G.push(R(1172, 463.5, 68, 15, { fill: grad([[0, "#666"], [0.45, "#b5b5b5"], [1, "rgba(255,255,255,0)"]]), stroke: grad([[0, "#222"], [1, "rgba(40,40,40,0)"]]), lineWidth: 1.5 }));
  G.push(L(1124, 437, 1124, 487, "#000", 1.3, { lineDash: [2, 2] }));
  G.push(T("PAS", 1061, 425), P([[1071.5, 434.5], [1076.5, 434.5], [1074, 439.5]], "#000"));
  G.push(T("read-through", 1141, 424.5));
  G.push(L(1197, 424, 1207, 424, RED, 2.5), P([[1206, 419.5], [1213, 424], [1206, 428.5]], RED));
  G.push(P([[1032, 498.5], [1039, 494], [1039, 503]], RED), L(1038, 498.5, 1047, 498.5, RED, 2.5));
  G.push(T("read-through", 1103, 499), T("PAS", 1186, 499));
  G.push(P([[1171, 485.5], [1176, 485.5], [1173.5, 480.5]], "#000"));
  // F legend + labels
  G.push(R(1005, 522, 18, 17, { fill: "rgba(40,40,255,0.28)" }), L(1006, 530.5, 1022, 530.5, BLUE, 2));
  G.push(R(1120, 522, 18, 17, { fill: "rgba(255,40,40,0.28)" }), L(1121, 530.5, 1137, 530.5, RED, 2));
  G.push(NR(1027, 530, "WT", { dy: 9 }), NR(1142, 530, "Y732F", { dy: 9 }));
  G.push(T("Mean PlaNET-seq signal (n=1384)", 932, 671, { rot: Math.PI / 2 }));
  G.push(T("PAS-PAS interval scaled to 300 bins", 1129, 827));

  // watermarks
  G.push(T("Author Manuscript", 278, 380, { rot: Math.PI / 2, size: 76, color: "rgba(0,0,0,0.33)", z: 200 }));
  G.push(T("This article is protected by copyright. All rights reserved", 628, 741, { size: 33.5, family: SERIF, z: 201 }));

  return {
    animation: false,
    backgroundColor: "#fff",
    grid: grids,
    xAxis,
    yAxis,
    series,
    graphic: G,
  };
}

export default function App() {
  const ref = useRef<HTMLDivElement>(null);
  useEffect(() => {
    const chart = echarts.init(ref.current as HTMLDivElement, null, { renderer: "svg" });
    chart.setOption(buildOption() as any);
    return () => chart.dispose();
  }, []);
  return (
    <div
      ref={ref}
      style={{ position: "absolute", left: 0, top: 0, width: 1292, height: 838, background: "#fff" }}
    />
  );
}
